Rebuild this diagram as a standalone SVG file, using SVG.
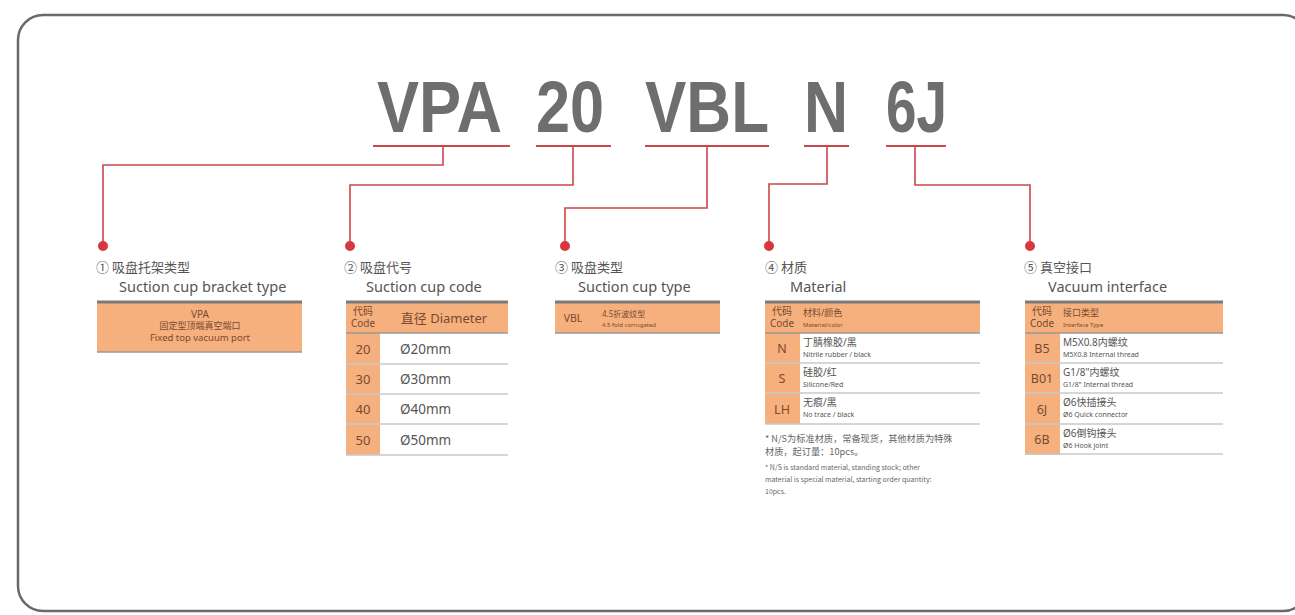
<svg xmlns="http://www.w3.org/2000/svg" width="1295" height="615" viewBox="0 0 1295 615">
<style>
.frame{fill:#fff;stroke:#6a6a6a;stroke-width:2.5}
.title{font-family:"Liberation Sans",Arial,sans-serif;font-weight:bold;font-size:73px;fill:#6e6e6e}
.ul{stroke:#c9484a;stroke-width:2;fill:none}
.conn{stroke:#c9484a;stroke-width:1.6;fill:none}
.dot{fill:#d6383d}
.hcn{font-family:"Noto Sans CJK SC","Noto Sans",sans-serif;font-size:13px;fill:#555}
.hen{font-family:"Noto Sans","Liberation Sans",sans-serif;font-size:14.5px;fill:#555}
.or{fill:#f5b07d}
.top{stroke:#7a7a7a;stroke-width:3}
.sep{stroke:#c8c8c8;stroke-width:1.5}
.bot{stroke:#999;stroke-width:1.5}
.tc{font-family:"Noto Sans","Noto Sans CJK SC",sans-serif;fill:#7a4a30}
.tg{font-family:"Noto Sans","Noto Sans CJK SC",sans-serif;fill:#555}
.note{font-family:"Noto Sans CJK SC","Noto Sans",sans-serif;fill:#666}
</style>
<rect class="frame" x="18" y="15" width="1290" height="596" rx="25"/>

<g id="title">
<text class="title" x="377" y="132" textLength="125" lengthAdjust="spacingAndGlyphs">VPA</text>
<text class="title" x="536" y="132" textLength="68" lengthAdjust="spacingAndGlyphs">20</text>
<text class="title" x="645" y="132" textLength="124" lengthAdjust="spacingAndGlyphs">VBL</text>
<text class="title" x="804" y="132" textLength="44" lengthAdjust="spacingAndGlyphs">N</text>
<text class="title" x="886" y="132" textLength="61" lengthAdjust="spacingAndGlyphs">6J</text>
</g>

<g id="connectors">
<line class="ul" x1="373" y1="146" x2="510" y2="146"/>
<line class="ul" x1="536" y1="146" x2="611" y2="146"/>
<line class="ul" x1="645" y1="146" x2="769" y2="146"/>
<line class="ul" x1="804" y1="146" x2="849" y2="146"/>
<line class="ul" x1="886" y1="146" x2="946" y2="146"/>
<polyline class="conn" points="443,146 443,165 103,165 103,245"/>
<polyline class="conn" points="573,146 573,185 350,185 350,245"/>
<polyline class="conn" points="707,146 707,208 565,208 565,245"/>
<polyline class="conn" points="827,146 827,184 769,184 769,245"/>
<polyline class="conn" points="915,146 915,185 1030,185 1030,245"/>
<circle class="dot" cx="103" cy="246" r="5"/>
<circle class="dot" cx="350" cy="246" r="5"/>
<circle class="dot" cx="565" cy="246" r="5"/>
<circle class="dot" cx="769" cy="246" r="5"/>
<circle class="dot" cx="1030" cy="246" r="5"/>
</g>

<g id="node1">
<text class="hcn" x="96" y="272">① 吸盘托架类型</text>
<text class="hen" x="119" y="292">Suction cup bracket type</text>
<rect class="or" x="97" y="302" width="205" height="50"/>
<line class="top" x1="97" y1="302" x2="302" y2="302"/>
<line class="bot" x1="97" y1="352" x2="302" y2="352"/>
<text class="tc" x="200" y="318" font-size="10" text-anchor="middle">VPA</text>
<text class="tc" x="200" y="329" font-size="9" text-anchor="middle">固定型顶端真空端口</text>
<text class="tc" x="200" y="341" font-size="9.5" text-anchor="middle">Fixed top vacuum port</text>
</g>

<g id="node2">
<text class="hcn" x="344" y="272">② 吸盘代号</text>
<text class="hen" x="366" y="292">Suction cup code</text>
<rect class="or" x="346" y="302" width="162" height="31"/>
<rect class="or" x="346" y="333" width="34" height="122"/>
<line class="top" x1="346" y1="302" x2="508" y2="302"/>
<line class="bot" x1="346" y1="333" x2="508" y2="333"/>
<line class="sep" x1="346" y1="364" x2="508" y2="364"/>
<line class="sep" x1="346" y1="394" x2="508" y2="394"/>
<line class="sep" x1="346" y1="424" x2="508" y2="424"/>
<line class="sep" x1="346" y1="455" x2="508" y2="455"/>
<text class="tc" x="363" y="315" font-size="10" text-anchor="middle">代码</text>
<text class="tc" x="363" y="327" font-size="10" text-anchor="middle">Code</text>
<text class="tc" x="444" y="323" font-size="13" text-anchor="middle">直径 Diameter</text>
<text class="tc" x="363" y="354" font-size="13" text-anchor="middle">20</text>
<text class="tc" x="363" y="384" font-size="13" text-anchor="middle">30</text>
<text class="tc" x="363" y="414" font-size="13" text-anchor="middle">40</text>
<text class="tc" x="363" y="445" font-size="13" text-anchor="middle">50</text>
<text class="tg" x="400" y="354" font-size="13.5">Ø20mm</text>
<text class="tg" x="400" y="384" font-size="13.5">Ø30mm</text>
<text class="tg" x="400" y="414" font-size="13.5">Ø40mm</text>
<text class="tg" x="400" y="445" font-size="13.5">Ø50mm</text>
</g>

<g id="node3">
<text class="hcn" x="555" y="272">③ 吸盘类型</text>
<text class="hen" x="578" y="292">Suction cup type</text>
<rect class="or" x="555" y="302" width="165" height="31"/>
<line class="top" x1="555" y1="302" x2="720" y2="302"/>
<line class="bot" x1="555" y1="333" x2="720" y2="333"/>
<text class="tc" x="573" y="322" font-size="10.5" text-anchor="middle">VBL</text>
<text class="tc" x="602" y="317" font-size="8">4.5折波纹型</text>
<text class="tc" x="602" y="327" font-size="6">4.5 fold corrugated</text>
</g>

<g id="node4">
<text class="hcn" x="765" y="272">④  材质</text>
<text class="hen" x="790" y="292">Material</text>
<rect class="or" x="765" y="302" width="215" height="31"/>
<rect class="or" x="765" y="333" width="35" height="91"/>
<line class="top" x1="765" y1="302" x2="980" y2="302"/>
<line class="bot" x1="765" y1="333" x2="980" y2="333"/>
<line class="sep" x1="765" y1="363" x2="980" y2="363"/>
<line class="sep" x1="765" y1="393" x2="980" y2="393"/>
<line class="sep" x1="765" y1="424" x2="980" y2="424"/>
<text class="tc" x="782" y="315" font-size="10" text-anchor="middle">代码</text>
<text class="tc" x="782" y="327" font-size="10" text-anchor="middle">Code</text>
<text class="tc" x="803" y="316" font-size="9">材料/颜色</text>
<text class="tc" x="803" y="327" font-size="6">Material/color</text>
<text class="tc" x="782" y="353" font-size="12.5" text-anchor="middle">N</text>
<text class="tc" x="782" y="383" font-size="12.5" text-anchor="middle">S</text>
<text class="tc" x="782" y="414" font-size="12.5" text-anchor="middle">LH</text>
<text class="tg" x="803" y="346" font-size="10">丁腈橡胶/黑</text>
<text class="tg" x="803" y="357" font-size="7">Nitrile rubber / black</text>
<text class="tg" x="803" y="376" font-size="10">硅胶/红</text>
<text class="tg" x="803" y="387" font-size="7">Silicone/Red</text>
<text class="tg" x="803" y="406" font-size="10">无痕/黑</text>
<text class="tg" x="803" y="417" font-size="7">No trace / black</text>
<text class="note" x="765" y="442" font-size="9.2">* N/S为标准材质，常备现货，其他材质为特殊</text>
<text class="note" x="765" y="455" font-size="9.2">材质，起订量：10pcs。</text>
<text class="note" x="765" y="470" font-size="7">* N/S is standard material, standing stock; other</text>
<text class="note" x="765" y="482" font-size="7">material is special material, starting order quantity:</text>
<text class="note" x="765" y="494" font-size="7">10pcs.</text>
</g>

<g id="node5">
<text class="hcn" x="1024" y="272">⑤ 真空接口</text>
<text class="hen" x="1048" y="292">Vacuum interface</text>
<rect class="or" x="1025" y="302" width="198" height="31"/>
<rect class="or" x="1025" y="333" width="35" height="122"/>
<line class="top" x1="1025" y1="302" x2="1223" y2="302"/>
<line class="bot" x1="1025" y1="333" x2="1223" y2="333"/>
<line class="sep" x1="1025" y1="363" x2="1223" y2="363"/>
<line class="sep" x1="1025" y1="393" x2="1223" y2="393"/>
<line class="sep" x1="1025" y1="424" x2="1223" y2="424"/>
<line class="sep" x1="1025" y1="454" x2="1223" y2="454"/>
<text class="tc" x="1042" y="315" font-size="10" text-anchor="middle">代码</text>
<text class="tc" x="1042" y="327" font-size="10" text-anchor="middle">Code</text>
<text class="tc" x="1063" y="316" font-size="9">接口类型</text>
<text class="tc" x="1063" y="327" font-size="6">Interface Type</text>
<text class="tc" x="1042" y="353" font-size="12.5" text-anchor="middle">B5</text>
<text class="tc" x="1042" y="383" font-size="12.5" text-anchor="middle">B01</text>
<text class="tc" x="1042" y="414" font-size="12.5" text-anchor="middle">6J</text>
<text class="tc" x="1042" y="444" font-size="12.5" text-anchor="middle">6B</text>
<text class="tg" x="1063" y="346" font-size="10">M5X0.8内螺纹</text>
<text class="tg" x="1063" y="357" font-size="7">M5X0.8 Internal thread</text>
<text class="tg" x="1063" y="376" font-size="10">G1/8"内螺纹</text>
<text class="tg" x="1063" y="387" font-size="7">G1/8" Internal thread</text>
<text class="tg" x="1063" y="406" font-size="10">Ø6快插接头</text>
<text class="tg" x="1063" y="417" font-size="7">Ø6 Quick connector</text>
<text class="tg" x="1063" y="437" font-size="10">Ø6倒钩接头</text>
<text class="tg" x="1063" y="448" font-size="7">Ø6 Hook joint</text>
</g>
</svg>
